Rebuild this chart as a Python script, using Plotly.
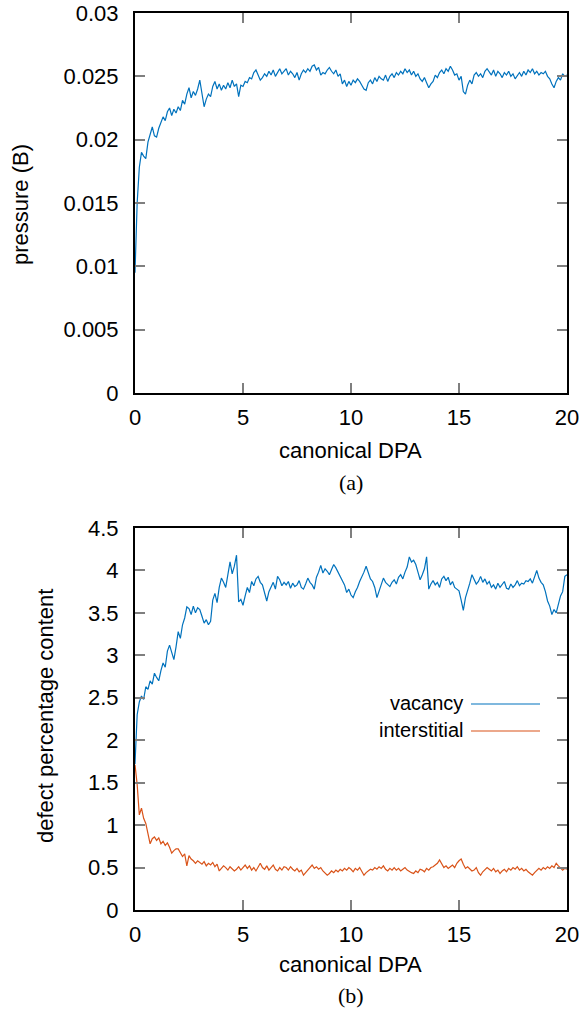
import plotly.graph_objects as go

dpa = [round(i * 0.1, 1) for i in range(201)]

pressure = [
    0.0095, 0.0150, 0.0178, 0.0190, 0.0187, 0.0185, 0.0198, 0.0204, 0.0210, 0.0203,
    0.0202, 0.0209, 0.0213, 0.0218, 0.0215, 0.0222, 0.0225, 0.0219, 0.0224, 0.0221,
    0.0226, 0.0223, 0.0231, 0.0228, 0.0236, 0.0241, 0.0233, 0.0238, 0.0235, 0.0240,
    0.0247, 0.0238, 0.0226, 0.0232, 0.0236, 0.0234, 0.0242, 0.0246, 0.0240, 0.0244,
    0.0239, 0.0243, 0.0240, 0.0245, 0.0241, 0.0247, 0.0242, 0.0244, 0.0234, 0.0243,
    0.0242, 0.0246, 0.0245, 0.0249, 0.0248, 0.0253, 0.0255, 0.0251, 0.0247, 0.0249,
    0.0252, 0.0250, 0.0254, 0.0251, 0.0255, 0.0250, 0.0253, 0.0256, 0.0252, 0.0254,
    0.0256, 0.0251, 0.0254, 0.0252, 0.0249, 0.0253, 0.0247, 0.0252, 0.0255, 0.0253,
    0.0256, 0.0254, 0.0258, 0.0259, 0.0255, 0.0257, 0.0251, 0.0253, 0.0252, 0.0255,
    0.0257, 0.0254, 0.0252, 0.0255, 0.0250, 0.0252, 0.0244, 0.0247, 0.0242, 0.0246,
    0.0243, 0.0247, 0.0245, 0.0248, 0.0246, 0.0243, 0.0240, 0.0239, 0.0245, 0.0247,
    0.0244, 0.0249, 0.0246, 0.0250, 0.0248, 0.0247, 0.0251, 0.0246, 0.0250, 0.0252,
    0.0249, 0.0253, 0.0251, 0.0254, 0.0252, 0.0256, 0.0253, 0.0255, 0.0251, 0.0254,
    0.0250, 0.0252, 0.0248, 0.0246, 0.0249, 0.0245, 0.0241, 0.0244, 0.0246, 0.0251,
    0.0249, 0.0253, 0.0255, 0.0252, 0.0256, 0.0254, 0.0258, 0.0255, 0.0251, 0.0252,
    0.0247, 0.0250, 0.0238, 0.0236, 0.0243, 0.0247, 0.0244, 0.0251, 0.0253, 0.0250,
    0.0252, 0.0249, 0.0254, 0.0256, 0.0253, 0.0251, 0.0255, 0.0250, 0.0254, 0.0252,
    0.0249, 0.0253, 0.0251, 0.0254, 0.0250, 0.0252, 0.0248, 0.0251, 0.0253, 0.0250,
    0.0254, 0.0251, 0.0255, 0.0253, 0.0256, 0.0252, 0.0254, 0.0251, 0.0253, 0.0252,
    0.0254, 0.0250, 0.0248, 0.0244, 0.0241, 0.0246, 0.0249, 0.0247, 0.0252, 0.0250,
    0.0251,
]

vacancy = [
    1.72, 2.30, 2.45, 2.52, 2.48, 2.63, 2.60, 2.70, 2.66, 2.79,
    2.74, 2.70, 2.82, 2.91, 2.86, 3.05, 3.12, 3.02, 2.95, 3.10,
    3.28, 3.20, 3.36, 3.44, 3.57, 3.55, 3.48, 3.58, 3.50, 3.56,
    3.54, 3.46, 3.38, 3.42, 3.36, 3.40, 3.65, 3.73, 3.62, 3.80,
    3.91, 3.86, 3.80, 3.95, 4.10, 3.96, 4.05, 4.18, 3.63, 3.66,
    3.59, 3.70, 3.80, 3.74, 3.87, 3.82, 3.90, 3.93, 3.86, 3.83,
    3.72, 3.64, 3.75, 3.80, 3.86, 3.78, 3.93, 3.89, 3.82, 3.86,
    3.83, 3.87, 3.79, 3.85, 3.81, 3.83, 3.88, 3.80, 3.78, 3.84,
    3.91, 3.86, 3.83, 3.78, 3.92, 3.98, 4.06, 3.97, 4.02, 3.99,
    3.95, 4.01, 4.07, 4.03, 3.98, 3.93, 3.88, 3.83, 3.74, 3.78,
    3.71, 3.68, 3.75, 3.80, 3.87, 3.92, 3.98, 4.05, 3.96, 3.90,
    3.87, 3.80, 3.68, 3.75, 3.82, 3.91, 3.86, 3.84, 3.81, 3.86,
    3.89, 3.84, 3.92, 3.95, 3.90, 3.98, 4.04, 4.16, 4.10, 4.12,
    4.07, 3.98, 3.89, 3.95, 4.02, 4.16, 3.78, 3.84, 3.88, 3.83,
    3.86, 3.80, 3.90, 3.93, 3.88, 3.92, 3.83, 3.87, 3.80, 3.78,
    3.76, 3.65, 3.53, 3.68, 3.76, 3.85, 3.95, 3.90, 3.84, 3.87,
    3.93, 3.86, 3.90, 3.84, 3.87, 3.80, 3.83, 3.78, 3.85, 3.80,
    3.83, 3.87, 3.79, 3.78, 3.84, 3.80, 3.83, 3.88, 3.82, 3.85,
    3.84, 3.88, 3.87, 3.90, 3.85, 3.92, 4.00, 3.91, 3.86, 3.83,
    3.75, 3.64, 3.58, 3.48, 3.54, 3.50, 3.62, 3.70, 3.75, 3.93,
    3.95,
]

interstitial = [
    1.71, 1.48, 1.12, 1.20, 1.08, 1.02, 0.90, 0.78, 0.84, 0.86,
    0.82, 0.85, 0.78, 0.81, 0.76, 0.79, 0.74, 0.67, 0.70, 0.72,
    0.72, 0.68, 0.63, 0.66, 0.52, 0.64, 0.60, 0.58, 0.55, 0.58,
    0.56, 0.54, 0.57, 0.52, 0.55, 0.53, 0.56, 0.51, 0.54, 0.46,
    0.49, 0.52, 0.50, 0.47, 0.51, 0.49, 0.46, 0.48, 0.51, 0.47,
    0.50, 0.53, 0.49, 0.52, 0.47, 0.50, 0.46, 0.51, 0.55, 0.50,
    0.48, 0.52, 0.47, 0.50, 0.53, 0.48, 0.46, 0.50, 0.47, 0.51,
    0.50, 0.47, 0.51, 0.48, 0.46, 0.49, 0.45, 0.47, 0.41, 0.44,
    0.47, 0.50, 0.53, 0.49, 0.51, 0.48, 0.50, 0.46, 0.44, 0.41,
    0.43, 0.46, 0.44, 0.47, 0.45, 0.48, 0.46, 0.49, 0.47, 0.50,
    0.48, 0.45, 0.49, 0.47, 0.50, 0.46, 0.41, 0.44, 0.46, 0.48,
    0.47, 0.50, 0.48, 0.51, 0.49, 0.52, 0.48, 0.46, 0.49, 0.47,
    0.50, 0.47, 0.49, 0.46, 0.48, 0.50, 0.47, 0.45, 0.44, 0.43,
    0.46, 0.44, 0.48, 0.47, 0.45, 0.49, 0.47, 0.50, 0.51, 0.53,
    0.55, 0.59, 0.54, 0.50, 0.52, 0.49, 0.51, 0.53, 0.50, 0.55,
    0.58, 0.60, 0.54, 0.49, 0.51, 0.48, 0.46, 0.47, 0.50, 0.44,
    0.41, 0.45, 0.47, 0.50, 0.48, 0.46, 0.49, 0.45, 0.47, 0.43,
    0.46, 0.48, 0.45, 0.49, 0.47, 0.50, 0.48, 0.51, 0.47, 0.49,
    0.46, 0.48, 0.45, 0.43, 0.41, 0.44, 0.46, 0.49, 0.47, 0.50,
    0.48, 0.51, 0.49, 0.52, 0.50, 0.55, 0.52, 0.50, 0.47, 0.49,
    0.48,
]

x_ticks = [0, 5, 10, 15, 20]
series_names = ["vacancy", "interstitial"]

BLUE = "#0072bd"
ORANGE = "#d95319"
W, H = 583, 1012
SANS = "Liberation Sans, Arial, sans-serif"
SERIF = "Liberation Serif, DejaVu Serif, serif"
FS = 22


def px(x):
    return x / W


def py(y):
    return 1 - y / H


fig = go.Figure()
fig.add_trace(go.Scatter(x=dpa, y=pressure, mode="lines", line=dict(color=BLUE, width=1.2),
                         xaxis="x", yaxis="y", showlegend=False))
fig.add_trace(go.Scatter(x=dpa, y=vacancy, mode="lines", line=dict(color=BLUE, width=1.2),
                         xaxis="x2", yaxis="y2", name=series_names[0], showlegend=False))
fig.add_trace(go.Scatter(x=dpa, y=interstitial, mode="lines", line=dict(color=ORANGE, width=1.2),
                         xaxis="x2", yaxis="y2", name=series_names[1], showlegend=False))

axis_common = dict(
    showline=True, linecolor="black", linewidth=2, mirror="allticks",
    ticks="inside", ticklen=10, tickwidth=1.5, tickcolor="#7f7f7f",
    showgrid=False, zeroline=False, automargin=False,
    tickfont=dict(family=SANS, size=FS, color="black"),
)

x_dom = [px(135), px(567)]
fig.update_layout(
    width=W, height=H,
    margin=dict(l=0, r=0, t=0, b=0, pad=0, autoexpand=False),
    paper_bgcolor="white", plot_bgcolor="white",
    xaxis=dict(domain=x_dom, range=[0, 20], tickvals=x_ticks, anchor="y",
               ticklabelstandoff=4, **axis_common),
    yaxis=dict(domain=[py(393), py(13)], range=[0, 0.03], dtick=0.005, anchor="x",
               ticklabelstandoff=10, **axis_common),
    xaxis2=dict(domain=x_dom, range=[0, 20], tickvals=x_ticks, anchor="y2",
                ticklabelstandoff=4, **axis_common),
    yaxis2=dict(domain=[py(910), py(528)], range=[0, 4.5], dtick=0.5, anchor="x2",
                ticklabelstandoff=10, **axis_common),
)

ann = []
xc = px(351)
for label, yy in [("canonical DPA", 450), ("canonical DPA", 964)]:
    ann.append(dict(text=label, x=xc, y=py(yy), xref="paper", yref="paper",
                    showarrow=False, xanchor="center", yanchor="middle",
                    font=dict(family=SANS, size=FS, color="black")))
for label, yy in [("(a)", 482), ("(b)", 995)]:
    ann.append(dict(text=label, x=xc, y=py(yy), xref="paper", yref="paper",
                    showarrow=False, xanchor="center", yanchor="middle",
                    font=dict(family=SERIF, size=FS, color="black")))
ann.append(dict(text="pressure (B)", x=px(20), y=py(205), xref="paper", yref="paper",
                showarrow=False, textangle=-90, xanchor="center", yanchor="middle",
                font=dict(family=SANS, size=FS, color="black")))
ann.append(dict(text="defect percentage content", x=px(45), y=py(716), xref="paper", yref="paper",
                showarrow=False, textangle=-90, xanchor="center", yanchor="middle",
                font=dict(family=SANS, size=FS, color="black")))

# legend (gnuplot style: text then line sample)
shapes = []
for name, col, yy in [(series_names[0], BLUE, 703), (series_names[1], ORANGE, 730)]:
    ann.append(dict(text=name, x=px(465), y=py(yy), xref="paper", yref="paper",
                    showarrow=False, xanchor="right", yanchor="middle",
                    font=dict(family=SANS, size=20, color="black")))
    shapes.append(dict(type="line", xref="paper", yref="paper",
                       x0=px(471), x1=px(540), y0=py(yy + 1), y1=py(yy + 1),
                       line=dict(color=col, width=1.2)))

fig.update_layout(annotations=ann, shapes=shapes)
fig.write_html("out.html")
